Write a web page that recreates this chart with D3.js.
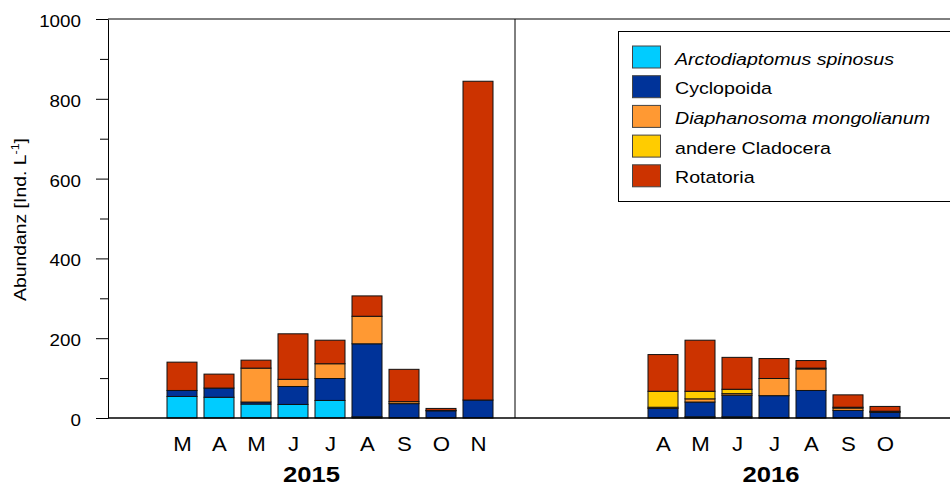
<!DOCTYPE html>
<html>
<head>
<meta charset="utf-8">
<script src="https://cdn.jsdelivr.net/npm/d3@7/dist/d3.min.js"></script>
<style>
  html, body { margin: 0; padding: 0; background: #fff; }
  svg { display: block; font-family: "Liberation Sans", Arial, sans-serif; }
</style>
</head>
<body>
<svg id="chart" width="950" height="486"></svg>
<script>
// ---------------- DATA ----------------
const years = ["2015", "2016"];
const months2015 = ["M", "A", "M", "J", "J", "A", "S", "O", "N"];
const months2016 = ["A", "M", "J", "J", "A", "S", "O"];

const seriesNames = ["Arctodiaptomus spinosus", "Cyclopoida", "Diaphanosoma mongolianum", "andere Cladocera", "Rotatoria"];
const seriesItalic = [true, false, true, false, false];

// 2015 values (Ind. L-1)
const arcto2015  = [54, 52, 35, 34, 44, 3, 0, 0, 0];
const cyclo2015  = [15, 23, 5, 45, 55, 183, 36, 18, 45];
const diaph2015  = [0, 0, 85, 18, 37, 69, 5, 1, 0];
const andere2015 = [0, 0, 0, 0, 0, 0, 0, 0, 0];
const rot2015    = [71, 35, 20, 114, 59, 51, 81, 5, 799];

// 2016 values (Ind. L-1)
const arcto2016  = [0, 3, 3, 1, 0, 0, 0];
const cyclo2016  = [24, 37, 54, 55, 69, 19, 14];
const diaph2016  = [3, 8, 4, 43, 54, 6, 2];
const andere2016 = [40, 19, 11, 0, 2, 2, 1];
const rot2016    = [92, 128, 80, 50, 19, 31, 12];

const yMajorTicks = [0, 200, 400, 600, 800, 1000];
const yMinorTicks = [100, 300, 500, 700, 900];
const yLabel = "Abundanz [Ind. L";
const yLabelSup = "-1";

// ---------------- STYLE / LAYOUT ----------------
const colors = ["#00CCFF", "#003399", "#FF9933", "#FFCC00", "#CC3300"];
const STRETCH = 1.14;       // horizontal text stretch of the original
const plotLeft = 108, plotTop = 19, plotBottom = 418, slot = 37;
const start2015 = 2, divider = 11, start2016 = 15;
const barW = 30;

const svg = d3.select("#chart");

const x = d3.scaleLinear().domain([0, 23]).range([plotLeft, plotLeft + slot * 23]);
const y = d3.scaleLinear().domain([0, 1000]).range([plotBottom, plotTop]);

// build rows
function rows(months, arrs, startIdx) {
  return months.map((m, i) => ({
    label: m, idx: startIdx + i,
    s0: arrs[0][i], s1: arrs[1][i], s2: arrs[2][i], s3: arrs[3][i], s4: arrs[4][i]
  }));
}
const data = rows(months2015, [arcto2015, cyclo2015, diaph2015, andere2015, rot2015], start2015)
  .concat(rows(months2016, [arcto2016, cyclo2016, diaph2016, andere2016, rot2016], start2016));

const keys = ["s0", "s1", "s2", "s3", "s4"];
const stacked = d3.stack().keys(keys)(data);

// bars
const gBars = svg.append("g");
stacked.forEach((layer, li) => {
  gBars.selectAll(null)
    .data(layer.filter(d => d[1] - d[0] > 0))
    .join("rect")
    .attr("x", d => x(d.data.idx) - barW / 2)
    .attr("width", barW)
    .attr("y", d => y(d[1]))
    .attr("height", d => y(d[0]) - y(d[1]))
    .attr("fill", colors[li])
    .attr("stroke", "#111")
    .attr("stroke-width", 1);
});

// frame lines
svg.append("line").attr("x1", plotLeft).attr("x2", 950).attr("y1", y(1000)).attr("y2", y(1000))
  .attr("stroke", "#000").attr("stroke-width", 1);
svg.append("line").attr("x1", x(divider)).attr("x2", x(divider)).attr("y1", y(1000)).attr("y2", y(0))
  .attr("stroke", "#000").attr("stroke-width", 1);

// y axis
const yAxisMajor = d3.axisLeft(y).tickValues(yMajorTicks).tickSize(12).tickSizeOuter(0).tickFormat(d3.format("d"));
const gy = svg.append("g").attr("transform", `translate(${plotLeft},0)`).call(yAxisMajor);
gy.select(".domain").attr("stroke", "#000");
gy.selectAll(".tick line").attr("stroke", "#000");
gy.selectAll(".tick text")
  .attr("x", null).attr("dy", null)
  .attr("transform", `translate(-27,7.5) scale(${STRETCH},1)`)
  .attr("text-anchor", "end")
  .attr("font-size", 16.5)
  .attr("font-family", "Liberation Sans, Arial, sans-serif")
  .attr("fill", "#000");

const yAxisMinor = d3.axisLeft(y).tickValues(yMinorTicks).tickSize(8).tickFormat("");
const gy2 = svg.append("g").attr("transform", `translate(${plotLeft},0)`).call(yAxisMinor);
gy2.select(".domain").remove();
gy2.selectAll(".tick line").attr("stroke", "#000");

// y label
const yl = svg.append("text")
  .attr("transform", `translate(26,${(y(0) + y(1000)) / 2 + 1}) rotate(-90) scale(${STRETCH},1)`)
  .attr("text-anchor", "middle")
  .attr("font-size", 17)
  .attr("fill", "#000");
yl.append("tspan").text(yLabel);
yl.append("tspan").attr("font-size", 11).attr("dy", -7).text(yLabelSup);
yl.append("tspan").attr("dy", 7).text("]");

// x axis (month labels)
const xAxis = d3.axisBottom(x)
  .tickValues(data.map(d => d.idx))
  .tickFormat((d, i) => data[i].label)
  .tickSize(0).tickSizeOuter(0);
const gx = svg.append("g").attr("transform", `translate(0,${plotBottom})`).call(xAxis);
gx.select(".domain").attr("d", `M${plotLeft},0H950`).attr("stroke", "#000").attr("stroke-width", 1.3);
gx.selectAll(".tick text")
  .attr("y", null).attr("dy", null)
  .attr("transform", `translate(0,32.5) scale(${STRETCH},1)`)
  .attr("font-size", 19.5)
  .attr("font-family", "Liberation Sans, Arial, sans-serif")
  .attr("fill", "#000");

// year labels
const yearCenters = [(x(0) + x(divider)) / 2, 771];
years.forEach((yr, i) => {
  svg.append("text")
    .attr("transform", `translate(${yearCenters[i]},482) scale(${STRETCH},1)`)
    .attr("text-anchor", "middle")
    .attr("font-size", 22.5)
    .attr("font-weight", "bold")
    .attr("fill", "#000")
    .text(yr);
});

// legend
const lg = svg.append("g");
lg.append("rect").attr("x", 618.5).attr("y", 31.5).attr("width", 345).attr("height", 170)
  .attr("fill", "#fff").attr("stroke", "#000").attr("stroke-width", 1);
seriesNames.forEach((name, i) => {
  const ry = 46 + i * 29.7;
  lg.append("rect").attr("x", 632.5).attr("y", ry).attr("width", 28).attr("height", 22)
    .attr("fill", colors[i]).attr("stroke", "#444").attr("stroke-width", 1);
  lg.append("text")
    .attr("transform", `translate(675,${ry + 18.5}) scale(${STRETCH},1)`)
    .attr("font-size", 17.2)
    .attr("font-style", seriesItalic[i] ? "italic" : "normal")
    .attr("fill", "#000")
    .text(name);
});
</script>
</body>
</html>
